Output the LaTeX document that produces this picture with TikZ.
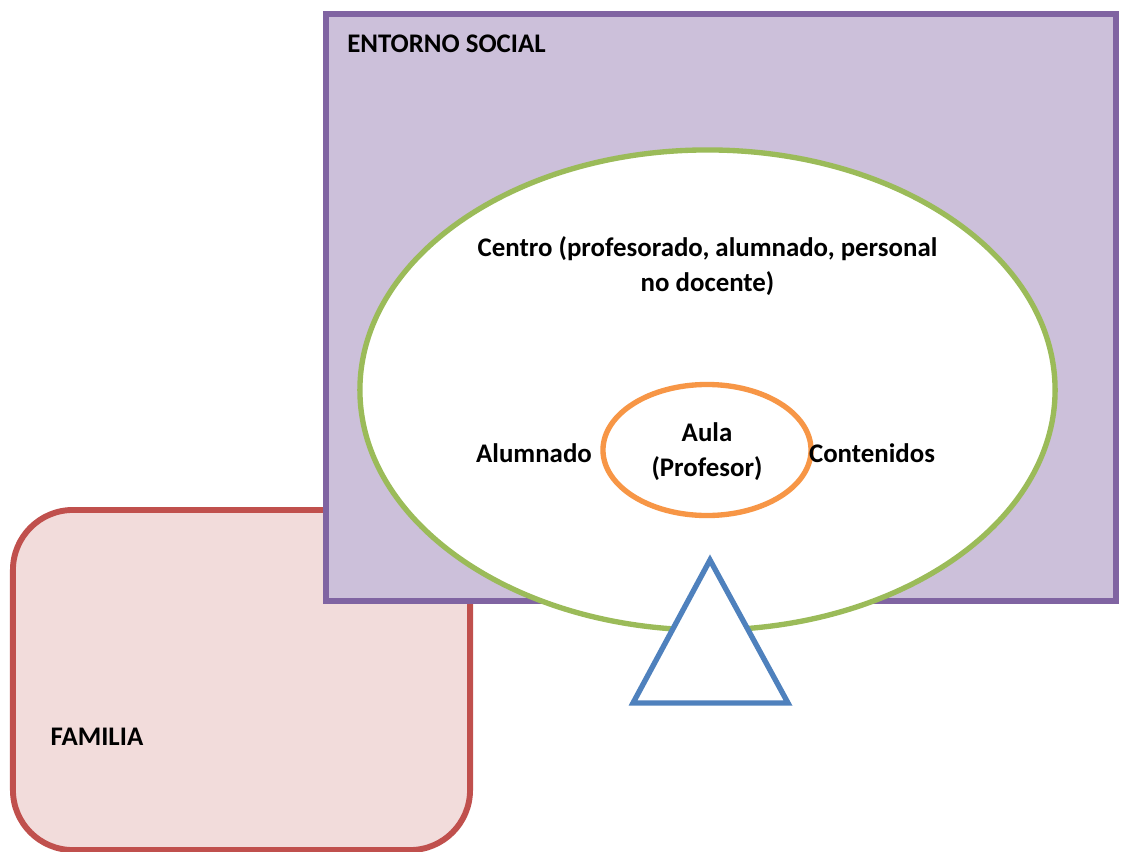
\documentclass[tikz,border=0pt]{standalone}
\usepackage{fontspec}
\setmainfont{Carlito}
\usepackage{tikz}
\usetikzlibrary{shapes.geometric,positioning}
\definecolor{lila}{HTML}{CCC0DA}
\definecolor{lilaborde}{HTML}{8064A2}
\definecolor{rosa}{HTML}{F2DCDB}
\definecolor{rojo}{HTML}{C0504D}
\definecolor{verde}{HTML}{9BBB59}
\definecolor{naranja}{HTML}{F79646}
\definecolor{azul}{HTML}{4F81BD}
\tikzset{txt/.style={inner sep=0pt,align=center,font=\fontsize{19.1}{25}\selectfont\bfseries},
  zona/.style={draw,line width=4.2pt,inner sep=0pt},
  circulo/.style={zona,ellipse,fill=white,line width=3.8pt}}

\begin{document}
\begin{tikzpicture}[x=0.025cm,y=-0.025cm]
\useasboundingbox (0,0) rectangle (1121,851);
\node[zona,draw=rojo,fill=rosa,rounded corners=1.5cm,minimum width=11.425cm,minimum height=8.5cm] (familia) at (241.5,680){};
\node[zona,draw=lilaborde,fill=lila,minimum width=19.75cm,minimum height=14.675cm] (entorno) at (721,307.5){};
\node[circulo,draw=verde,minimum width=17.375cm,minimum height=12cm] (centro) at (707.5,390){};
\node[circulo,draw=naranja,minimum width=5.2cm,minimum height=3.275cm] (aula) at (707,450){};
\draw[azul,line width=3.8pt,fill=white] (710,560) -- (788,703) -- (633,703) -- cycle;
\node[txt,anchor=west] (tentorno) at (347,44){ENTORNO SOCIAL};
\node[txt] (tcentro) at (707.5,266){Centro (profesorado, alumnado, personal\\no docente)};
\node[txt] (talumnado) at (534,453){Alumnado};
\node[txt] (taula) at (707,452){Aula\\(Profesor)};
\node[txt] (tcontenidos) at (872,453){Contenidos};
\node[txt] (tfamilia) at (97,737){FAMILIA};
\end{tikzpicture}
\end{document}
